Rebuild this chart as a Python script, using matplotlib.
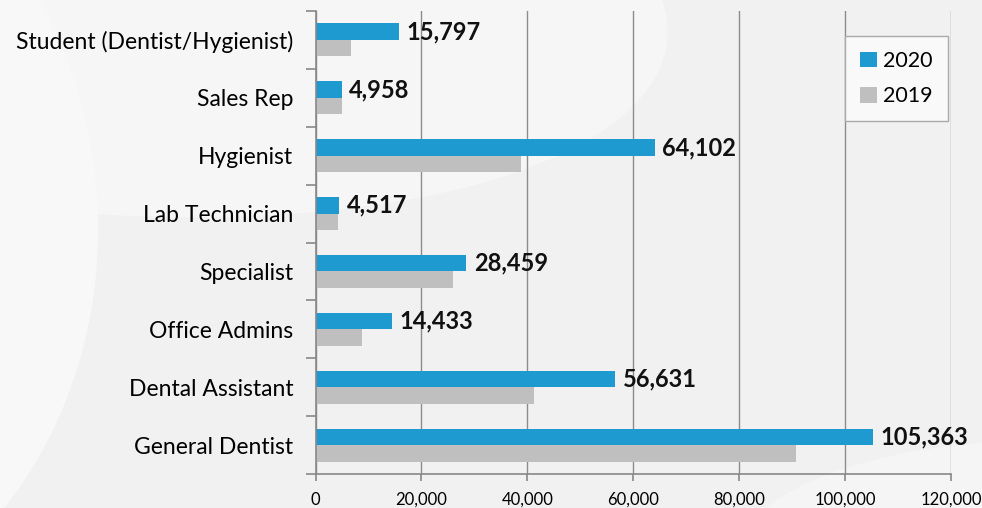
import matplotlib.pyplot as plt
from matplotlib.patches import Ellipse
import numpy as np

plt.rcParams['font.family'] = ['Lato', 'DejaVu Sans']

categories = ['General Dentist', 'Dental Assistant', 'Office Admins', 'Specialist',
              'Lab Technician', 'Hygienist', 'Sales Rep', 'Student (Dentist/Hygienist)']
values_2020 = [105363, 56631, 14433, 28459, 4517, 64102, 4958, 15797]
values_2019 = [90700, 41300, 8800, 26000, 4200, 38800, 5000, 6700]
xticks = [0, 20000, 40000, 60000, 80000, 100000, 120000]

blue = '#1f9ad0'
grey = '#bfbfbf'


def draw_background(fig):
    fig.patch.set_facecolor('#f1f1f1')
    # soft white swooshes behind the chart
    for xy, w, h, a, c in [((0.05, 1.05), 1.3, 0.9, -20, '#f6f6f6'),
                           ((-0.25, 0.55), 0.7, 1.6, 0, '#f8f8f8'),
                           ((1.0, -0.05), 0.5, 0.35, 15, '#f5f5f5')]:
        fig.patches.append(Ellipse(xy, w, h, angle=a, transform=fig.transFigure,
                                   facecolor=c, edgecolor='none', zorder=-10))


def main():
    fig = plt.figure(figsize=(9.82, 5.08), dpi=100)
    draw_background(fig)
    ax = fig.add_axes([0.3213, 0.0669, 0.6471, 0.9114])
    ax.set_facecolor('none')

    y = np.arange(len(categories))
    h = 0.285
    ax.barh(y + h / 2, values_2020, height=h, color=blue, label='2020', zorder=3)
    ax.barh(y - h / 2, values_2019, height=h, color=grey, label='2019', zorder=3)

    for yi, v in zip(y, values_2020):
        ax.text(v + 1400, yi + h / 2, f'{v:,}', va='center', ha='left',
                fontsize=17, fontweight='bold', color='#111111', zorder=4)

    ax.set_xlim(0, 120000)
    ax.set_ylim(-0.5, len(categories) - 0.5)
    ax.set_xticks(xticks)
    ax.set_xticklabels([f'{t:,}' for t in xticks], fontsize=12)
    ax.set_yticks(y)
    ax.set_yticklabels(categories, fontsize=16.5)
    ax.set_yticks(np.arange(-0.5, len(categories)), minor=True)
    ax.tick_params(axis='y', which='major', length=0, pad=16)
    ax.tick_params(axis='y', which='minor', length=7, color='#888888', width=1.2)
    ax.tick_params(axis='x', length=5, color='#888888', width=1.2, pad=8)

    ax.grid(axis='x', color='#8c8c8c', linewidth=1, zorder=0)
    for s in ['top', 'right']:
        ax.spines[s].set_visible(False)
    for s in ['left', 'bottom']:
        ax.spines[s].set_color('#888888')
        ax.spines[s].set_linewidth(1.2)
        ax.spines[s].set_zorder(5)

    leg = ax.legend(loc='upper right', bbox_to_anchor=(0.995, 0.946), fontsize=15.5,
                    frameon=True, fancybox=False, handlelength=0.75, handleheight=0.75,
                    handletextpad=0.3, labelspacing=0.7, borderpad=0.7,
                    borderaxespad=0)
    leg.get_frame().set_facecolor('#f9f9f9')
    leg.get_frame().set_edgecolor('#aaaaaa')
    leg.get_frame().set_alpha(1)

    fig.savefig('out.png', dpi=100, facecolor=fig.get_facecolor())


if __name__ == '__main__':
    main()
